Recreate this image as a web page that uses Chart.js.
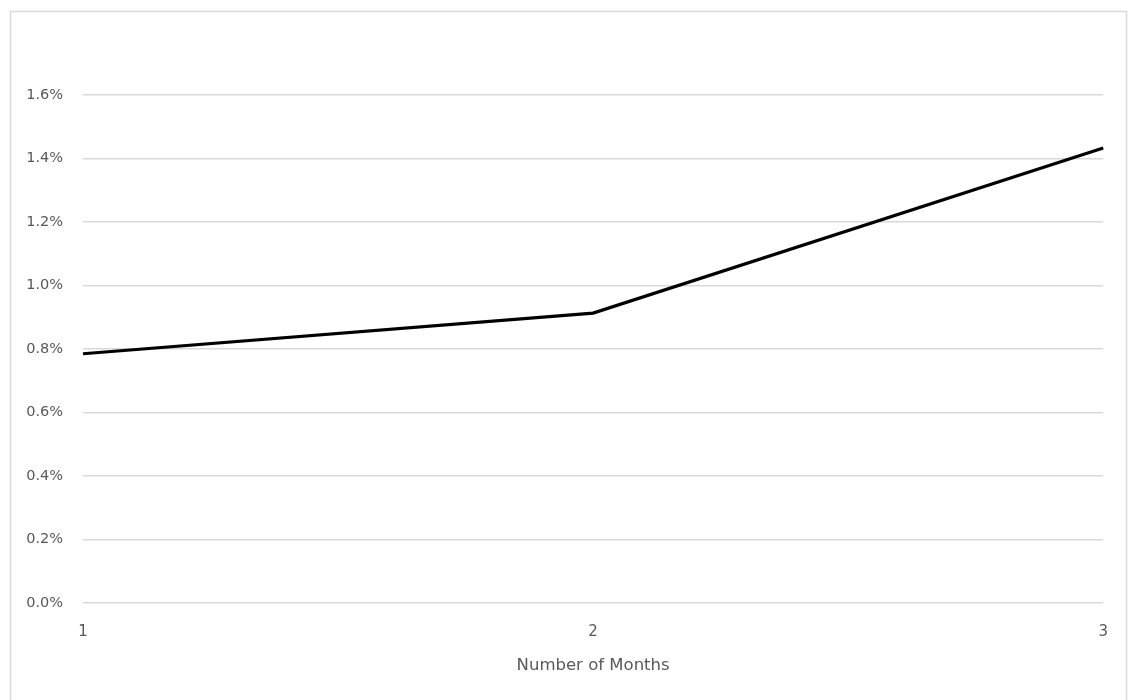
<!DOCTYPE html>
<html>
<head>
<meta charset="utf-8">
<script src="https://cdn.jsdelivr.net/npm/chart.js@4/dist/chart.umd.min.js"></script>
<style>
  html, body { margin: 0; padding: 0; background: #fff; }
  #wrap { width: 1128px; height: 700px; position: relative; }
</style>
</head>
<body>
<div id="wrap"><canvas id="chart"></canvas></div>
<script>
const months = ["1", "2", "3"];
const rates = [0.785, 0.913, 1.433];
const yTicks = [0, 0.2, 0.4, 0.6, 0.8, 1.0, 1.2, 1.4, 1.6];

const textColor = "#595959";
const gridColor = "#d9d9d9";

// light frame around the whole chart
const framePlugin = {
  id: "frame",
  beforeDraw(chart) {
    const ctx = chart.ctx;
    ctx.save();
    ctx.fillStyle = "#fff";
    ctx.fillRect(0, 0, chart.width, chart.height);
    ctx.strokeStyle = gridColor;
    ctx.lineWidth = 1.5;
    ctx.strokeRect(10.5, 11.5, chart.width - 12, chart.height + 10);
    ctx.restore();
  }
};

new Chart(document.getElementById("chart"), {
  type: "line",
  data: {
    labels: months,
    datasets: [{
      data: rates,
      borderColor: "#000",
      borderWidth: 3.2,
      pointRadius: 0,
      tension: 0,
      fill: false
    }]
  },
  options: {
    responsive: true,
    maintainAspectRatio: false,
    animation: false,
    layout: { padding: { top: 95, right: 18, bottom: 0, left: 0 } },
    plugins: { legend: { display: false }, tooltip: { enabled: false } },
    scales: {
      x: {
        offset: false,
        grid: { display: false, drawTicks: false },
        border: { display: false },
        ticks: { color: textColor, font: { family: "DejaVu Sans", size: 15 }, padding: 20, maxRotation: 0 },
        title: {
          display: true,
          text: "Number of Months",
          color: textColor,
          font: { family: "DejaVu Sans", size: 16.5 },
          padding: { top: 0, bottom: 24 }
        },
        afterFit(scale) { scale.height = 97; }
      },
      y: {
        min: 0,
        max: 1.6,
        afterBuildTicks(scale) { scale.ticks = yTicks.map(v => ({ value: v })); },
        grid: { color: gridColor, lineWidth: 1.5, drawTicks: false },
        border: { display: false },
        ticks: {
          color: textColor,
          font: { family: "DejaVu Sans", size: 14.5 },
          padding: 20,
          callback: v => v.toFixed(1) + "%"
        },
        afterFit(scale) { scale.width = 83; }
      }
    }
  },
  plugins: [framePlugin]
});
</script>
</body>
</html>
